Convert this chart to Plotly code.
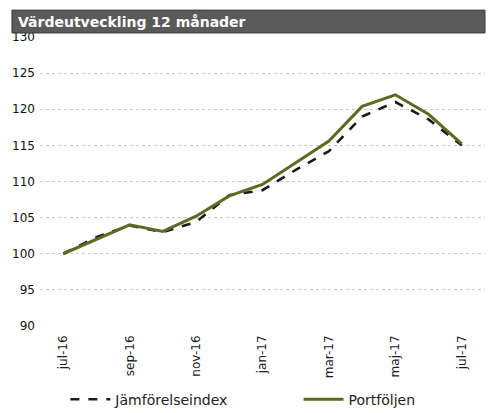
import plotly.graph_objects as go

months = ["jul-16", "aug-16", "sep-16", "okt-16", "nov-16", "dec-16", "jan-17",
          "feb-17", "mar-17", "apr-17", "maj-17", "jun-17", "jul-17"]
jamforelseindex = [100.0, 102.3, 103.9, 103.0, 104.4, 108.1, 108.8, 111.6, 114.2, 119.0, 121.0, 118.6, 115.0]
portfoljen = [100.0, 102.0, 104.0, 103.1, 105.2, 108.0, 109.6, 112.6, 115.6, 120.4, 122.0, 119.3, 115.2]
tick_months = ["jul-16", "sep-16", "nov-16", "jan-17", "mar-17", "maj-17", "jul-17"]
y_ticks = [90, 95, 100, 105, 110, 115, 120, 125, 130]
title_text = "Värdeutveckling 12 månader"

fig = go.Figure()
fig.add_trace(go.Scatter(x=months, y=jamforelseindex, name="Jämförelseindex", mode="lines",
                         line=dict(color="#1a1a1a", width=2.6, dash="dash"), legend="legend"))
fig.add_trace(go.Scatter(x=months, y=portfoljen, name="Portföljen", mode="lines",
                         line=dict(color="#5a6b22", width=3), legend="legend2"))

leg_common = dict(orientation="h", yanchor="middle", xanchor="left",
                  font=dict(size=14, color="#222222"), bgcolor="rgba(0,0,0,0)", itemwidth=40)

fig.update_layout(
    width=491, height=413,
    margin=dict(l=40, r=6, t=37, b=87, autoexpand=False),
    paper_bgcolor="white", plot_bgcolor="white",
    font=dict(family="DejaVu Sans", color="#222222", size=12),
    showlegend=True,
    legend=dict(x=0.057, y=-0.255, **leg_common),
    legend2=dict(x=0.581, y=-0.255, **leg_common),
    xaxis=dict(type="category", range=[-0.7, 12.7], tickmode="array", tickvals=tick_months,
               ticktext=tick_months, tickangle=-90, tickfont=dict(size=12, color="#1a1a1a"),
               showgrid=False, showline=False, zeroline=False, ticks="", automargin=False,
               ticklabelstandoff=6),
    yaxis=dict(range=[90, 130], tickvals=y_ticks, showgrid=True, gridcolor="#c8c8c8",
               griddash="dot", gridwidth=1, zeroline=False, showline=False, automargin=False,
               tickfont=dict(size=12, color="#111111"), ticks="", ticklabelstandoff=4),
    shapes=[dict(type="rect", xref="paper", yref="paper", x0=-0.063, x1=1.0,
                 y0=1.014, y1=1.093, fillcolor="#5a5a5a", line=dict(color="#3a3a3a", width=1),
                 layer="above")],
    annotations=[dict(text="<b>" + title_text + "</b>", xref="paper", yref="paper",
                      x=-0.055, y=1.053, xanchor="left", yanchor="middle", showarrow=False,
                      font=dict(size=14, color="white", family="DejaVu Sans"))],
)

fig.write_html("out.html", config={"displayModeBar": False},
               post_script="document.body.style.margin='0px';")
